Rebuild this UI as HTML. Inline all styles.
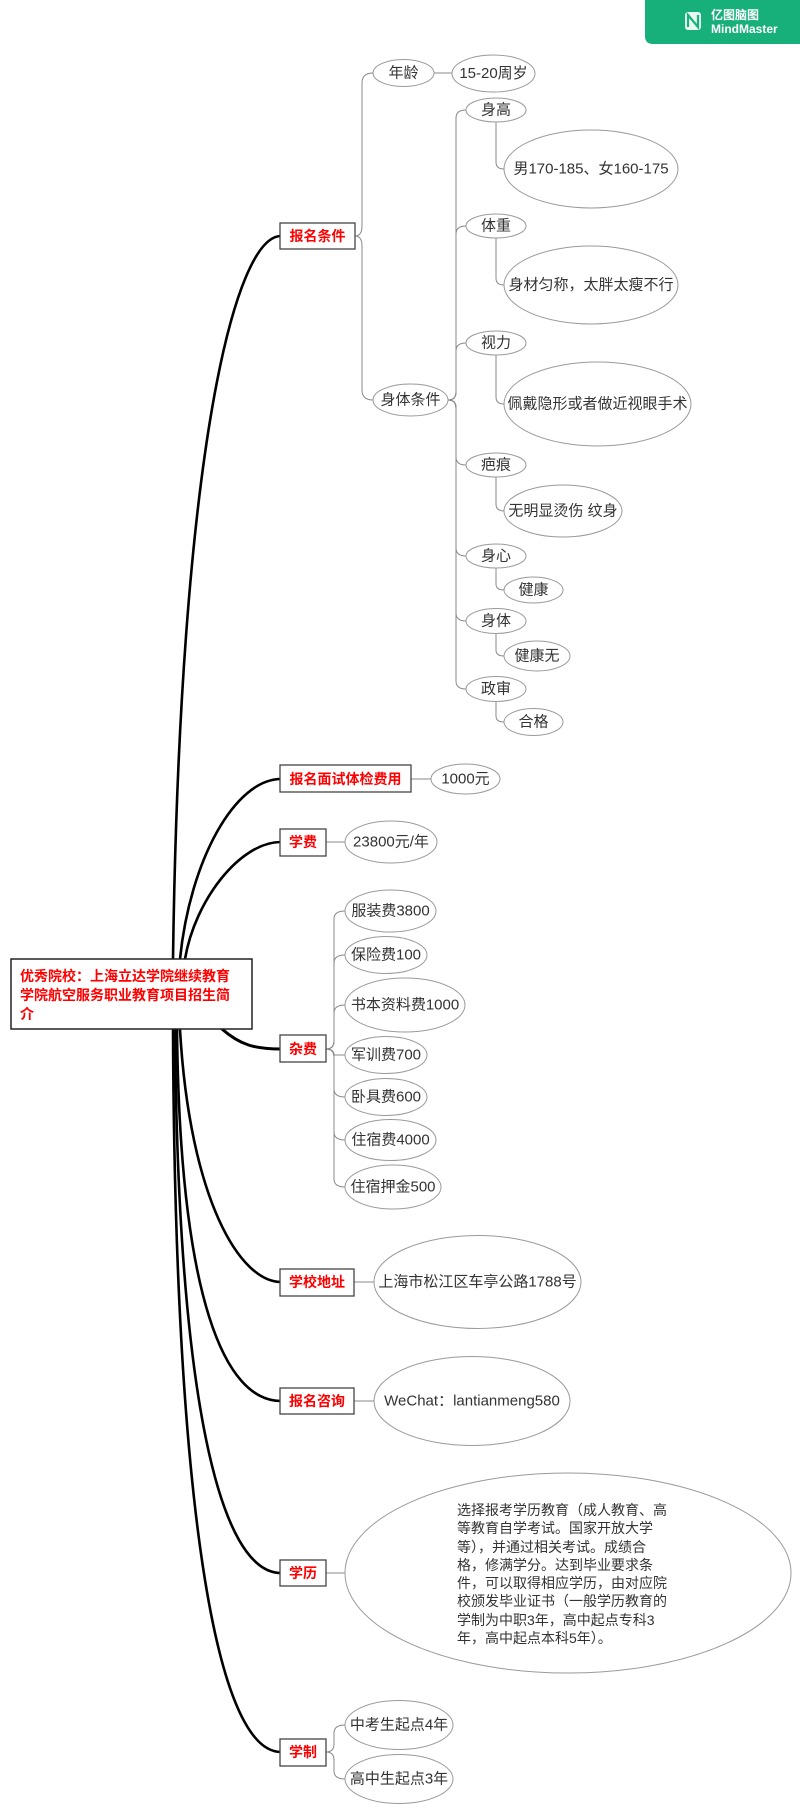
<!DOCTYPE html>
<html><head><meta charset="utf-8"><style>
html,body{margin:0;padding:0;background:#fff;}
svg{display:block;}
text{font-family:"Liberation Sans","Noto Sans CJK SC",sans-serif;}
.e{fill:#fff;stroke:#9a9a9a;stroke-width:1;}
.t{font-size:15px;fill:#333;text-anchor:middle;dominant-baseline:central;}
.b{fill:#fff;stroke:#444;stroke-width:1.3;}
.bt{font-size:14px;fill:#f00;font-weight:bold;text-anchor:middle;dominant-baseline:central;}
.th{fill:none;stroke:#000;stroke-width:2.6;stroke-linecap:round;}
.tn{fill:none;stroke:#8a8a8a;stroke-width:1;}
</style></head><body>
<svg width="800" height="1813" viewBox="0 0 800 1813" xmlns="http://www.w3.org/2000/svg">
<path d="M645 0 H800 V44 H653 Q645 44 645 36 Z" fill="#17b07a"/>
<rect x="685" y="12" width="16" height="18" rx="3" fill="#fff" opacity="0.9"/>
<path d="M688 27 V15 L698 27 V15" stroke="#17b07a" stroke-width="2.2" fill="none"/>
<text x="711" y="19" font-size="12" font-weight="bold" fill="#fff">亿图脑图</text>
<text x="711" y="33" font-size="12" font-weight="bold" fill="#fff">MindMaster</text>

<path class="th" d="M173 959 C180 450 235 236 281 236"/>
<path class="th" d="M180 959 C190 860 235 779 281 779"/>
<path class="th" d="M185 959 C195 900 240 842 281 842"/>
<path class="th" d="M222 1029 C240 1045 255 1049 281 1049" style="stroke-width:3"/>
<path class="th" d="M180 1030 C190 1200 240 1282 281 1282"/>
<path class="th" d="M177 1030 C180 1300 225 1401 281 1401"/>
<path class="th" d="M175 1030 C178 1400 220 1573 281 1573"/>
<path class="th" d="M173 1030 C175 1500 215 1752 281 1752"/>

<g class="tn">
<path d="M355 236 Q362 236 362 226 L362 83 Q362 73 373 73"/>
<path d="M355 236 Q362 236 362 246 L362 390 Q362 400 373 400"/>
<path d="M434 73 H452"/>
<path d="M448 400 Q456 400 456 392 L456 118 Q456 110 466 110"/>
<path d="M448 400 Q456 400 456 392 L456 234 Q456 226 466 226"/>
<path d="M448 400 Q456 400 456 392 L456 351 Q456 343 466 343"/>
<path d="M448 400 Q456 400 456 408 L456 457 Q456 465 466 465"/>
<path d="M448 400 Q456 400 456 408 L456 548 Q456 556 466 556"/>
<path d="M448 400 Q456 400 456 408 L456 613 Q456 621 466 621"/>
<path d="M448 400 Q456 400 456 408 L456 681 Q456 689 466 689"/>
<path d="M496 122 L496 162 Q496 169 504 169"/>
<path d="M496 238 L496 278 Q496 285 504 285"/>
<path d="M496 355 L496 397 Q496 404 504 404"/>
<path d="M496 477 L496 504 Q496 511 504 511"/>
<path d="M496 568 L496 584 Q496 590 504 590"/>
<path d="M496 633 L496 650 Q496 656 504 656"/>
<path d="M496 701 L496 716 Q496 722 504 722"/>
<path d="M411 779 H431"/>
<path d="M326 842 H345"/>
<path d="M326 1049 Q334 1049 334 1041 L334 919 Q334 911 345 911"/>
<path d="M326 1049 Q334 1049 334 1041 L334 963 Q334 955 345 955"/>
<path d="M326 1049 Q334 1049 334 1041 L334 1013 Q334 1005 345 1005"/>
<path d="M326 1049 Q334 1049 334 1055 Q334 1055 345 1055"/>
<path d="M326 1049 Q334 1049 334 1057 L334 1089 Q334 1097 345 1097"/>
<path d="M326 1049 Q334 1049 334 1057 L334 1132 Q334 1140 345 1140"/>
<path d="M326 1049 Q334 1049 334 1057 L334 1179 Q334 1187 345 1187"/>
<path d="M354 1282 H374"/>
<path d="M354 1401 H374"/>
<path d="M326 1573 H345"/>
<path d="M326 1752 Q334 1752 334 1744 L334 1733 Q334 1725 345 1725"/>
<path d="M326 1752 Q334 1752 334 1760 L334 1771 Q334 1779 345 1779"/>
</g>

<rect x="11" y="959" width="241" height="70" fill="#fff" stroke="#222" stroke-width="1.5"/>
<text x="20" y="981" font-size="14" font-weight="bold" fill="#f00">优秀院校：上海立达学院继续教育</text>
<text x="20" y="1000" font-size="14" font-weight="bold" fill="#f00">学院航空服务职业教育项目招生简</text>
<text x="20" y="1019" font-size="14" font-weight="bold" fill="#f00">介</text>

<rect class="b" x="280" y="223" width="75" height="26"/><text class="bt" x="317.5" y="236">报名条件</text>
<rect class="b" x="280" y="765" width="131" height="27"/><text class="bt" x="345.5" y="779">报名面试体检费用</text>
<rect class="b" x="280" y="829" width="46" height="27"/><text class="bt" x="303" y="842">学费</text>
<rect class="b" x="280" y="1035" width="46" height="27"/><text class="bt" x="303" y="1049">杂费</text>
<rect class="b" x="280" y="1269" width="74" height="27"/><text class="bt" x="317" y="1282">学校地址</text>
<rect class="b" x="280" y="1388" width="74" height="26"/><text class="bt" x="317" y="1401">报名咨询</text>
<rect class="b" x="280" y="1560" width="46" height="26"/><text class="bt" x="303" y="1573">学历</text>
<rect class="b" x="280" y="1739" width="46" height="27"/><text class="bt" x="303" y="1752">学制</text>

<ellipse class="e" cx="403.5" cy="73" rx="30.5" ry="13.5"/><text class="t" x="403.5" y="73">年龄</text>
<ellipse class="e" cx="493.5" cy="73.5" rx="41.5" ry="18.5"/><text class="t" x="493.5" y="73.5">15-20周岁</text>
<ellipse class="e" cx="410.5" cy="400" rx="37.5" ry="16"/><text class="t" x="410.5" y="400">身体条件</text>
<ellipse class="e" cx="496" cy="110" rx="30" ry="12"/><text class="t" x="496" y="110">身高</text>
<ellipse class="e" cx="591" cy="169" rx="87" ry="39"/><text class="t" x="591" y="169">男170-185、女160-175</text>
<ellipse class="e" cx="496" cy="226" rx="30" ry="12"/><text class="t" x="496" y="226">体重</text>
<ellipse class="e" cx="591" cy="285" rx="87" ry="39"/><text class="t" x="591" y="285">身材匀称，太胖太瘦不行</text>
<ellipse class="e" cx="496" cy="343" rx="30" ry="12"/><text class="t" x="496" y="343">视力</text>
<ellipse class="e" cx="597.5" cy="404" rx="93.5" ry="42"/><text class="t" x="597.5" y="404">佩戴隐形或者做近视眼手术</text>
<ellipse class="e" cx="496" cy="465" rx="30" ry="12"/><text class="t" x="496" y="465">疤痕</text>
<ellipse class="e" cx="563" cy="511" rx="59" ry="26"/><text class="t" x="563" y="511">无明显烫伤 纹身</text>
<ellipse class="e" cx="496" cy="556" rx="30" ry="12"/><text class="t" x="496" y="556">身心</text>
<ellipse class="e" cx="533.5" cy="590" rx="29.5" ry="13"/><text class="t" x="533.5" y="590">健康</text>
<ellipse class="e" cx="496" cy="621" rx="30" ry="12.5"/><text class="t" x="496" y="621">身体</text>
<ellipse class="e" cx="537" cy="656" rx="33" ry="15"/><text class="t" x="537" y="656">健康无</text>
<ellipse class="e" cx="496" cy="689" rx="30" ry="12.5"/><text class="t" x="496" y="689">政审</text>
<ellipse class="e" cx="533.5" cy="722" rx="29.5" ry="13.5"/><text class="t" x="533.5" y="722">合格</text>
<ellipse class="e" cx="465.5" cy="779" rx="34.5" ry="15"/><text class="t" x="465.5" y="779">1000元</text>
<ellipse class="e" cx="391" cy="842" rx="46" ry="21"/><text class="t" x="391" y="842">23800元/年</text>
<ellipse class="e" cx="390.5" cy="911" rx="45.5" ry="21"/><text class="t" x="390.5" y="911">服装费3800</text>
<ellipse class="e" cx="386" cy="955" rx="41" ry="18.5"/><text class="t" x="386" y="955">保险费100</text>
<ellipse class="e" cx="405" cy="1005" rx="60" ry="27"/><text class="t" x="405" y="1005">书本资料费1000</text>
<ellipse class="e" cx="386" cy="1055" rx="41" ry="18.5"/><text class="t" x="386" y="1055">军训费700</text>
<ellipse class="e" cx="386" cy="1097" rx="41" ry="18.5"/><text class="t" x="386" y="1097">卧具费600</text>
<ellipse class="e" cx="390.5" cy="1140" rx="45.5" ry="20.5"/><text class="t" x="390.5" y="1140">住宿费4000</text>
<ellipse class="e" cx="393" cy="1187" rx="48" ry="22"/><text class="t" x="393" y="1187">住宿押金500</text>
<ellipse class="e" cx="477.5" cy="1282" rx="103.5" ry="46.5"/><text class="t" x="477.5" y="1282">上海市松江区车亭公路1788号</text>
<ellipse class="e" cx="472" cy="1401" rx="98" ry="44.5"/><text class="t" x="472" y="1401">WeChat：lantianmeng580</text>
<ellipse class="e" cx="568" cy="1573" rx="223" ry="100"/>
<g font-size="14" fill="#333" dominant-baseline="central">
<text x="457" y="1510">选择报考学历教育（成人教育、高</text>
<text x="457" y="1528">等教育自学考试。国家开放大学</text>
<text x="457" y="1547">等），并通过相关考试。成绩合</text>
<text x="457" y="1565">格，修满学分。达到毕业要求条</text>
<text x="457" y="1583">件，可以取得相应学历，由对应院</text>
<text x="457" y="1601">校颁发毕业证书（一般学历教育的</text>
<text x="457" y="1620">学制为中职3年，高中起点专科3</text>
<text x="457" y="1638">年，高中起点本科5年）。</text>
</g>
<ellipse class="e" cx="399" cy="1725" rx="54" ry="24.5"/><text class="t" x="399" y="1725">中考生起点4年</text>
<ellipse class="e" cx="399" cy="1779" rx="54" ry="24.5"/><text class="t" x="399" y="1779">高中生起点3年</text>
</svg>
</body></html>
